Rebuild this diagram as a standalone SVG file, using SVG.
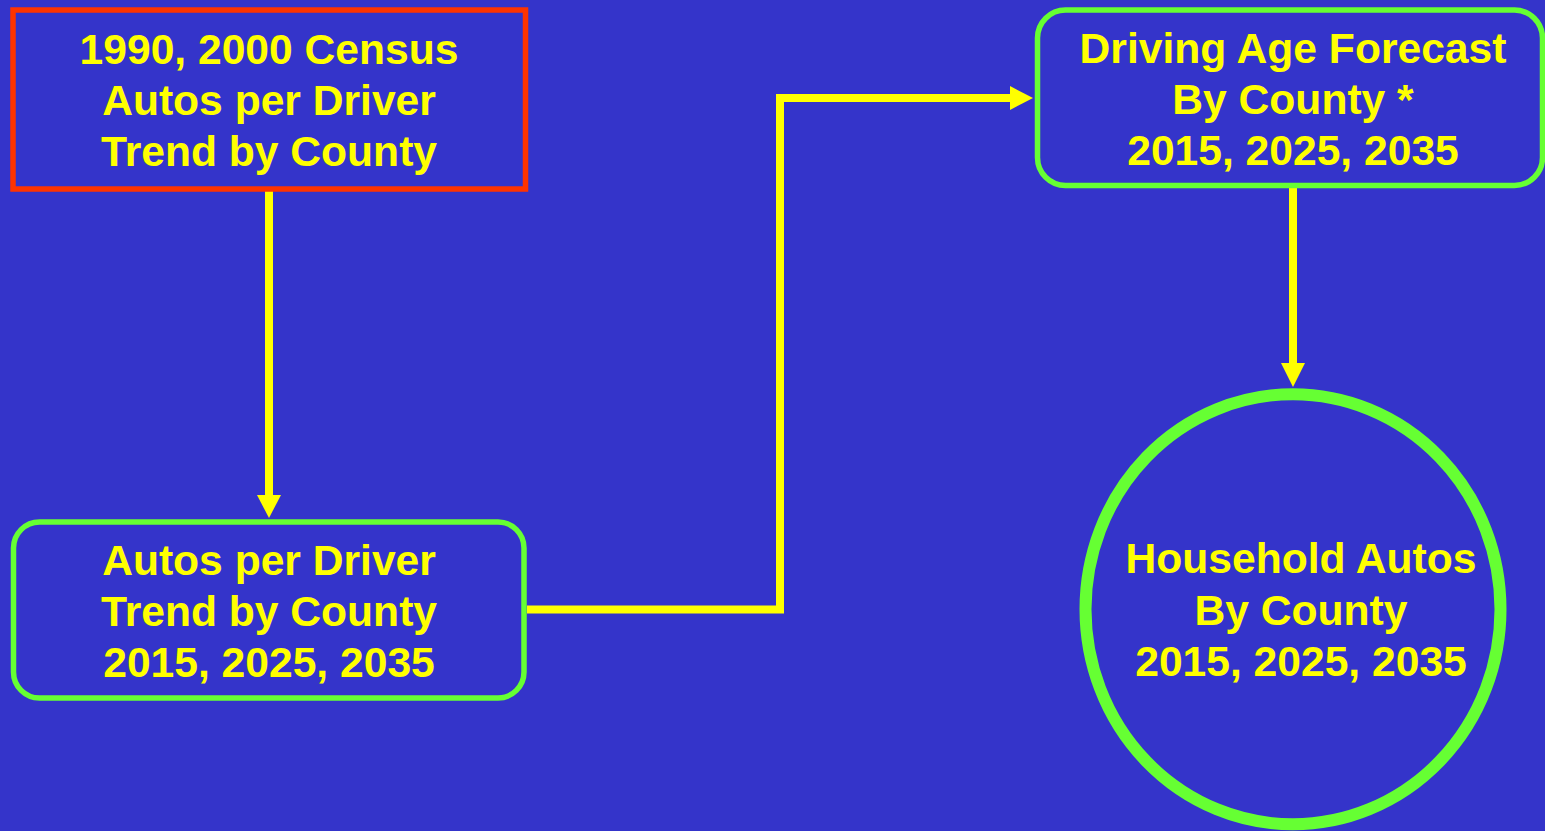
<svg xmlns="http://www.w3.org/2000/svg" width="1545" height="831" viewBox="0 0 1545 831">
<style>
.lbl{font-family:"Liberation Sans",Arial,sans-serif;font-weight:bold;font-size:42.6px;fill:#FFFF00;text-anchor:middle}
.conn{fill:none;stroke:#FFFF00;stroke-width:8}
.ah{fill:#FFFF00}
</style>
<rect x="0" y="0" width="1545" height="831" fill="#3434CA"/>
<g id="connectors">
<path class="conn" d="M269,191 V496"/>
<polygon class="ah" points="257,495 281,495 269,518"/>
<path class="conn" d="M527,609.5 H780 V98 H1012"/>
<polygon class="ah" points="1010,86 1010,110 1033,98"/>
<path class="conn" d="M1293,188 V365"/>
<polygon class="ah" points="1281,363 1305,363 1293,387"/>
</g>
<g id="census">
<rect x="13" y="10" width="512.5" height="179" fill="none" stroke="#FF3300" stroke-width="5.5"/>
<text class="lbl" x="269" y="64">1990, 2000 Census</text>
<text class="lbl" x="269" y="115">Autos per Driver</text>
<text class="lbl" x="269" y="166">Trend by County</text>
</g>
<g id="trend">
<rect x="13.5" y="522" width="510.5" height="176" rx="26" ry="26" fill="none" stroke="#66FF33" stroke-width="5.5"/>
<text class="lbl" x="269" y="575">Autos per Driver</text>
<text class="lbl" x="269" y="626">Trend by County</text>
<text class="lbl" x="269" y="677">2015, 2025, 2035</text>
</g>
<g id="driving">
<rect x="1037.5" y="10" width="505" height="175.5" rx="28" ry="28" fill="none" stroke="#66FF33" stroke-width="5.5"/>
<text class="lbl" x="1293" y="63">Driving Age Forecast</text>
<text class="lbl" x="1293" y="114">By County *</text>
<text class="lbl" x="1293" y="165">2015, 2025, 2035</text>
</g>
<g id="household">
<ellipse cx="1293" cy="609.25" rx="207.5" ry="215" fill="none" stroke="#66FF33" stroke-width="12"/>
<text class="lbl" x="1301" y="573">Household Autos</text>
<text class="lbl" x="1301" y="625">By County</text>
<text class="lbl" x="1301" y="676">2015, 2025, 2035</text>
</g>
</svg>
